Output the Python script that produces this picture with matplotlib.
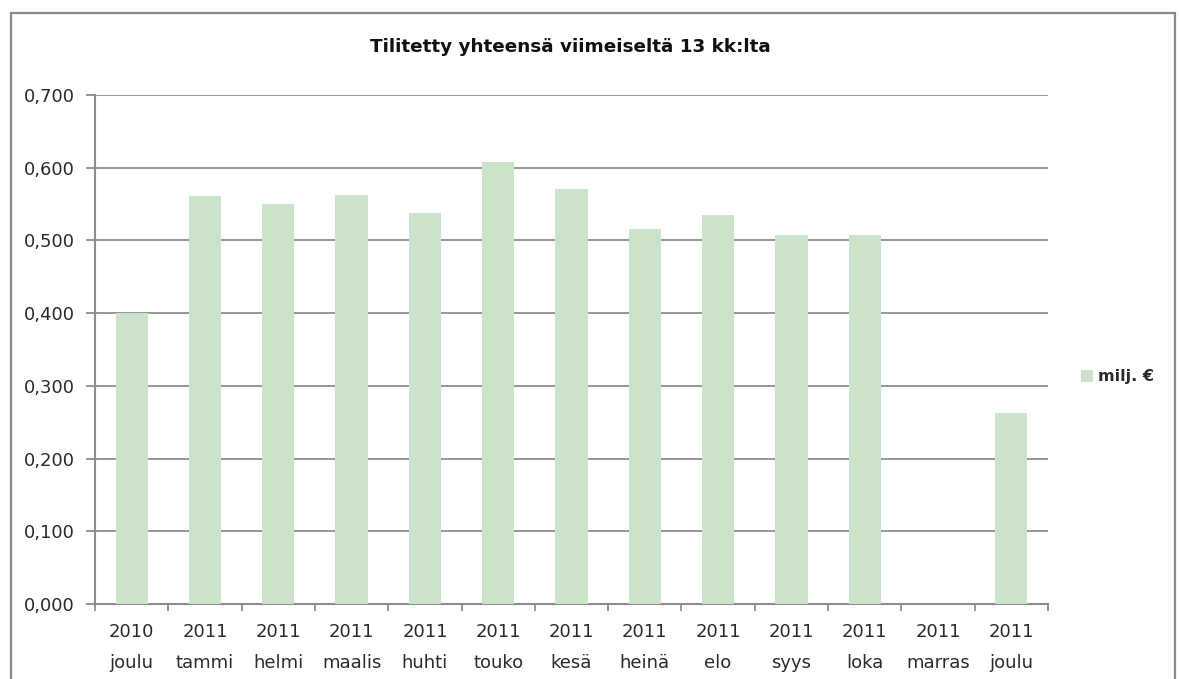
import matplotlib
matplotlib.use("Agg")
import matplotlib.pyplot as plt
from matplotlib.patches import Rectangle, Patch
import numpy as np

plt.rcParams['font.family'] = ['DejaVu Sans']

title = "Tilitetty yhteensä viimeiseltä 13 kk:lta"
years = ["2010", "2011", "2011", "2011", "2011", "2011", "2011", "2011", "2011", "2011", "2011", "2011", "2011"]
months = ["joulu", "tammi", "helmi", "maalis", "huhti", "touko", "kesä", "heinä", "elo", "syys", "loka", "marras", "joulu"]
values = [0.400, 0.561, 0.550, 0.563, 0.538, 0.608, 0.571, 0.516, 0.535, 0.508, 0.508, 0.0, 0.263]
series_name = "milj. €"
yticks = [0.0, 0.1, 0.2, 0.3, 0.4, 0.5, 0.6, 0.7]

bar_color = "#CCE2CB"
grid_color = "#8C8C8C"
text_color = "#2a2a2a"

fig = plt.figure(figsize=(11.79, 6.79), dpi=100)
W, H = 1179, 679
ax = fig.add_axes([95 / W, 1 - 604 / H, (1048 - 95) / W, (604 - 95) / H])

x = np.arange(len(values))
ax.bar(x, values, width=0.44, color=bar_color, zorder=3)

ax.set_xlim(-0.5, len(values) - 0.5)
ax.set_ylim(0, 0.7)
ax.set_yticks(yticks)
ax.set_yticklabels([f"{v:.3f}".replace(".", ",") for v in yticks], fontsize=13, color=text_color)
ax.yaxis.grid(True, color=grid_color, linewidth=1.3, zorder=1)
ax.set_axisbelow(True)

ax.set_xticks(x)
ax.set_xticklabels([f"{y}\n{m}" for y, m in zip(years, months)], fontsize=13, color=text_color,
                   linespacing=1.9)
ax.set_xticks(np.arange(len(values) + 1) - 0.5, minor=True)
ax.tick_params(axis='x', which='major', length=0, pad=14)
ax.tick_params(axis='x', which='minor', length=5, width=1.3, color=grid_color)
ax.tick_params(axis='y', length=6.5, width=1.3, color=grid_color, pad=8)

for s in ["top", "right"]:
    ax.spines[s].set_visible(False)
for s in ["left", "bottom"]:
    ax.spines[s].set_color(grid_color)
    ax.spines[s].set_linewidth(1.5)

fig.text(570 / W, 1 - 47 / H, title, ha="center", va="center", fontsize=13.2, fontweight="bold", color="#111111")

handle = Patch(facecolor=bar_color, edgecolor="none")
fig.legend([handle], [series_name], loc="center left", bbox_to_anchor=(1067 / W, 1 - 377 / H),
           frameon=False, handlelength=0.7, handleheight=0.7, handletextpad=0.35,
           prop={'weight': 'bold', 'size': 11.5}, labelcolor=text_color)

frame = Rectangle((11 / W, -0.05), (1175 - 11) / W, (1 - 13 / H) + 0.05, transform=fig.transFigure,
                  fill=False, edgecolor="#8A8A8A", linewidth=1.6, clip_on=False)
fig.patches.append(frame)

fig.savefig("out.png", dpi=100)
